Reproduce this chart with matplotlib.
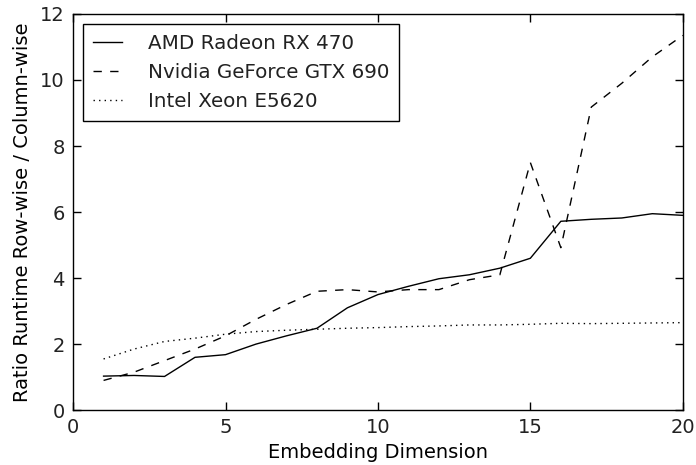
import matplotlib
matplotlib.use("Agg")
import matplotlib.pyplot as plt

dims = list(range(1, 21))
amd = [1.03, 1.05, 1.02, 1.6, 1.68, 2.0, 2.25, 2.48, 3.1, 3.5,
       3.75, 3.98, 4.1, 4.3, 4.6, 5.72, 5.78, 5.82, 5.95, 5.9]
nvidia = [0.9, 1.15, 1.5, 1.85, 2.25, 2.75, 3.2, 3.6, 3.65, 3.58,
          3.65, 3.65, 3.95, 4.1, 7.5, 4.92, 9.18, 9.9, 10.7, 11.35]
intel = [1.55, 1.85, 2.08, 2.18, 2.3, 2.38, 2.42, 2.45, 2.48, 2.5,
         2.53, 2.55, 2.58, 2.58, 2.6, 2.63, 2.62, 2.63, 2.64, 2.65]

plt.rcParams["font.family"] = ["DejaVu Sans"]
plt.rcParams["font.size"] = 14
plt.rcParams["text.color"] = "#222222"

fig = plt.figure(figsize=(6.96, 4.65), dpi=100)
ax = fig.add_axes([0.105, 0.118, 0.876, 0.852])

ax.plot(dims, amd, color="black", lw=1.0, ls="-", label="AMD Radeon RX 470")
ax.plot(dims, nvidia, color="black", lw=1.0, ls=(0, (6, 6)), label="Nvidia GeForce GTX 690")
ax.plot(dims, intel, color="black", lw=1.0, ls=(0, (1, 3)), label="Intel Xeon E5620")

ax.set_xlim(0, 20)
ax.set_ylim(0, 12)
ax.set_xticks([0, 5, 10, 15, 20])
ax.set_yticks([0, 2, 4, 6, 8, 10, 12])
ax.tick_params(direction="in", top=True, right=True, length=6, width=1, pad=6,
               labelcolor="#222222")
for s in ax.spines.values():
    s.set_linewidth(1.0)

ax.set_xlabel("Embedding Dimension", labelpad=4)
ax.set_ylabel("Ratio Runtime Row-wise / Column-wise", labelpad=6)

# legend box: tight frame, short handles
leg = ax.legend(loc="upper left", fancybox=False, framealpha=1, edgecolor="black",
                fontsize=14.3, handlelength=1.45, handletextpad=1.3,
                labelspacing=0.5, borderpad=0.5, borderaxespad=0.5)
leg.get_frame().set_linewidth(1.0)

fig.savefig("out.png", dpi=100)
